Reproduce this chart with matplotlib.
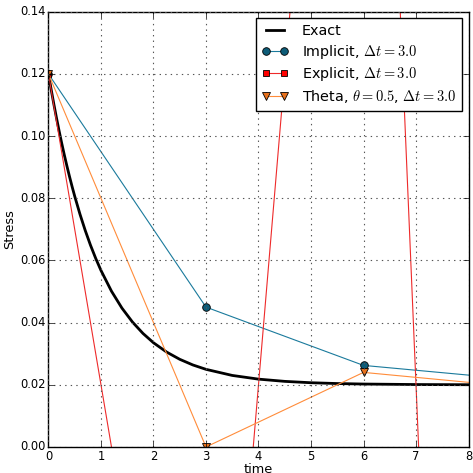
#!/usr/bin/env python3
# -*- coding: utf-8 -*-
import matplotlib

matplotlib.use("Agg")

import matplotlib.pyplot as plt

# exact relaxation curve
t_exact = [0.0, 0.05, 0.1, 0.15, 0.2, 0.25, 0.3, 0.35, 0.4, 0.45, 0.5,
           0.6, 0.7, 0.8, 0.9, 1.0,
           1.2, 1.4, 1.6, 1.8, 2.0, 2.25, 2.5, 2.75, 3.0,
           3.5, 4.0, 4.5, 5.0, 5.5, 6.0, 7.0, 8.0]
s_exact = [0.12, 0.11512, 0.11048, 0.10607, 0.10187, 0.09788, 0.09408,
           0.09047, 0.08703, 0.08376, 0.08065,
           0.07488, 0.06966, 0.06493, 0.06066, 0.05679,
           0.05012, 0.04466, 0.04019, 0.03653, 0.03353, 0.03054, 0.02821,
           0.02639, 0.02498,
           0.02302, 0.02183, 0.02111, 0.02067, 0.02041, 0.02025, 0.02009,
           0.02003]

# time-stepping results, dt = 3.0
t_steps = [0.0, 3.0, 6.0, 9.0]
s_implicit = [0.12, 0.045, 0.02625, 0.02156]
s_explicit = [0.12, -0.18, 0.42, -0.78]
s_theta = [0.12, 0.0, 0.024, 0.0192]

IMAGE_DPI = 100.0

plt.style.use("classic")
plt.rcParams["font.family"] = ["DejaVu Sans"]
plt.rcParams["font.size"] = 9

fig = plt.figure(facecolor="white")
fig.set_size_inches(473 / IMAGE_DPI, 473 / IMAGE_DPI)
ax = fig.add_axes([0.1025, 0.055, 0.888, 0.92])

ax.plot(t_exact, s_exact, color="black", linewidth=2.0, label="Exact")
ax.plot(
    t_steps,
    s_implicit,
    color="#1a7a9c",
    linewidth=0.8,
    marker="o",
    markersize=5.5,
    markerfacecolor="#0d5c78",
    markeredgecolor="black",
    markeredgewidth=0.6,
    label=r"Implicit, $\Delta t=3.0$",
)
ax.plot(
    t_steps,
    s_explicit,
    color="#ee2a2a",
    linewidth=0.8,
    marker="s",
    markersize=4.5,
    markerfacecolor="red",
    markeredgecolor="black",
    markeredgewidth=0.6,
    label=r"Explicit, $\Delta t=3.0$",
)
ax.plot(
    t_steps,
    s_theta,
    color="#ff8c3a",
    linewidth=0.8,
    marker="v",
    markersize=5.5,
    markerfacecolor="#e8711c",
    markeredgecolor="black",
    markeredgewidth=0.6,
    label=r"Theta, $\theta=0.5$, $\Delta t=3.0$",
)

ax.set_xlim(0, 8)
ax.set_ylim(0, 0.14)
ax.set_xticks(range(0, 9))
ax.set_yticks([0.0, 0.02, 0.04, 0.06, 0.08, 0.10, 0.12, 0.14])
ax.yaxis.set_major_formatter(matplotlib.ticker.FormatStrFormatter("%.2f"))
ax.grid(True, color="#555555", linestyle=":", linewidth=0.8)
ax.tick_params(labelsize=8.3, pad=2)

ax.set_xlabel("time", fontsize=9.3, labelpad=0)
ax.set_ylabel("Stress", fontsize=9.3, labelpad=3)

ax.legend(loc="upper right", fontsize=10.4, numpoints=2, borderaxespad=0.45,
          handlelength=1.8, handletextpad=0.95, labelspacing=0.32,
          borderpad=0.4)

fig.savefig("out.png", dpi=IMAGE_DPI, facecolor="white")
